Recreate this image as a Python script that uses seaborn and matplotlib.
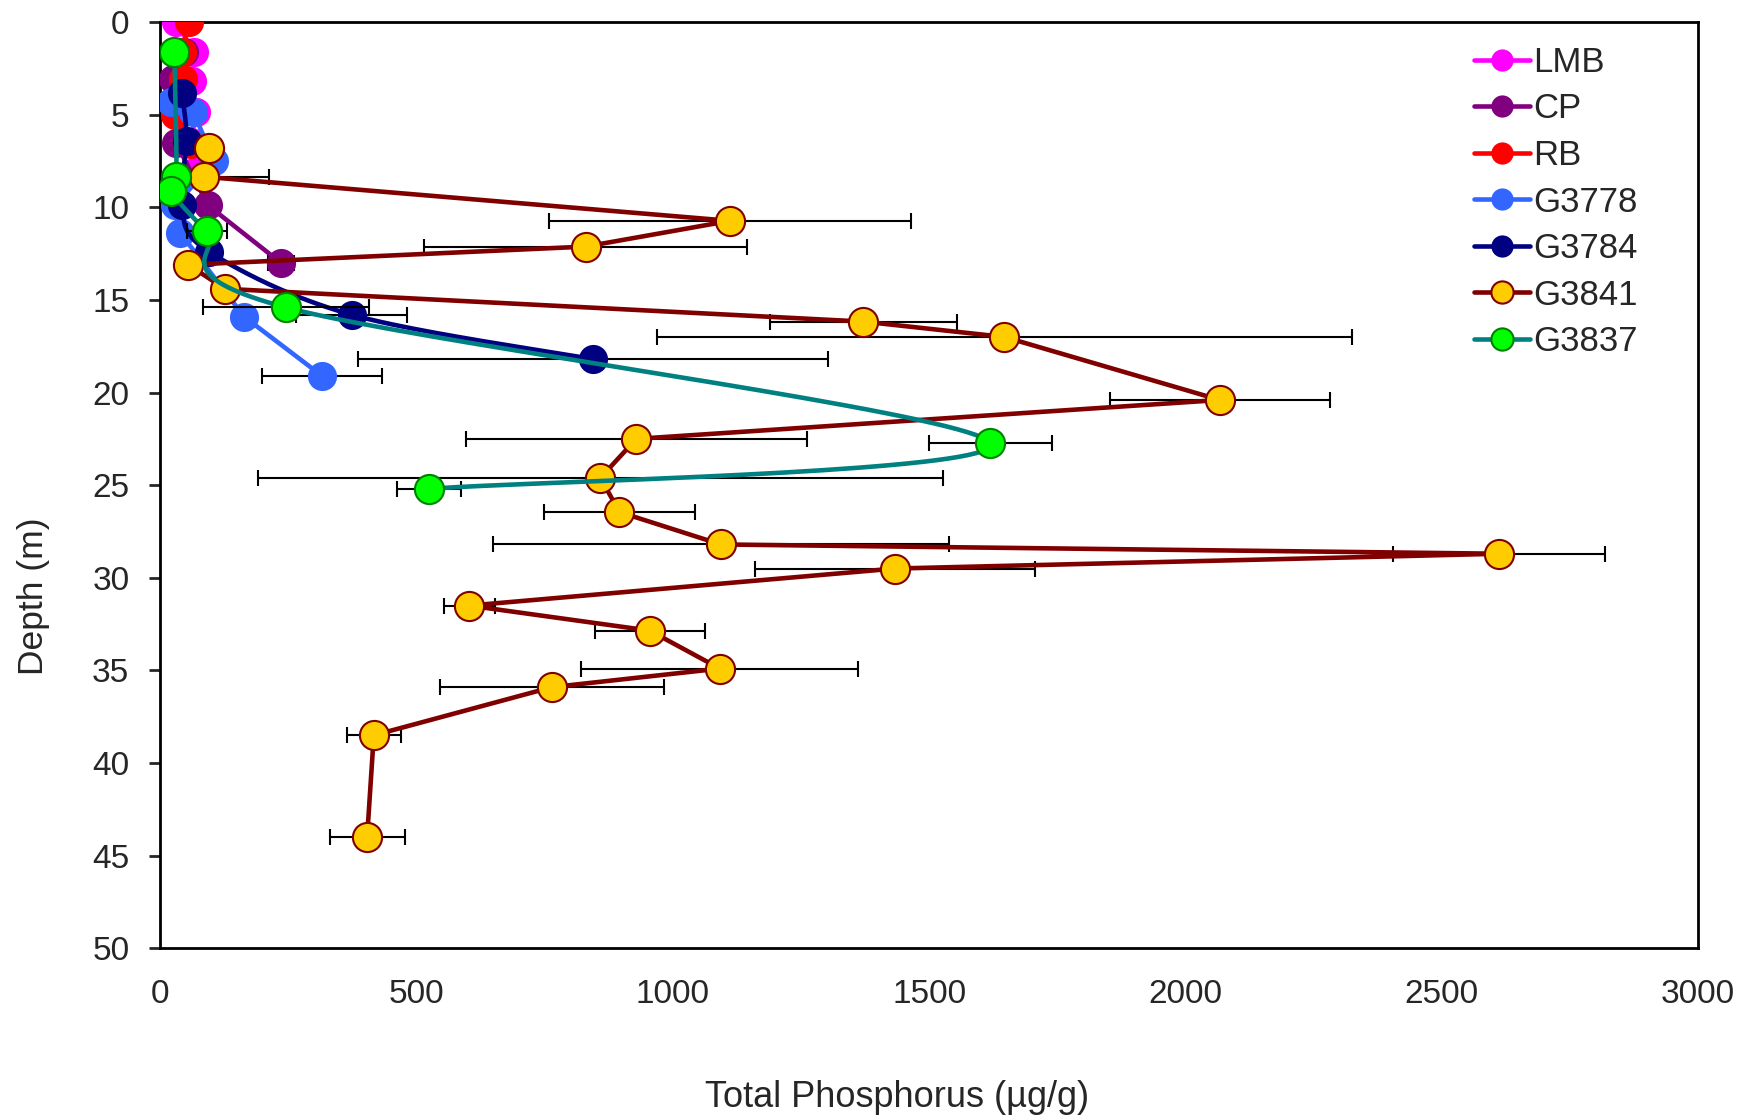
import numpy as np
import matplotlib
matplotlib.use("Agg")
import matplotlib.pyplot as plt
import seaborn as sns
from matplotlib.lines import Line2D

# data (x = total P in ug/g, y = depth in m)
lmb_depth = [0, 1.6, 3.2, 4.85, 6.5, 8.1]
lmb_tp = [31, 66, 62, 71, 60, 66]

cp_depth = [1.6, 3.1, 6.55, 9.9, 13.0]
cp_tp = [47, 26, 32, 94, 236]
cp_err = [0, 0, 0, 0, 25]

rb_depth = [0, 1.6, 3.1, 5.0, 6.6]
rb_tp = [57, 42, 45, 29, 61]

g3778_depth = [4.3, 4.85, 7.5, 9.9, 11.4, 15.9, 19.1]
g3778_tp = [22, 65, 106, 30, 40, 164, 316]
g3778_err = [0, 0, 0, 0, 0, 0, 117]

g3784_depth = [3.85, 6.4, 9.9, 12.4, 15.8, 18.2]
g3784_tp = [43, 52, 42, 96, 374, 845]
g3784_err = [0, 0, 0, 0, 108, 458]

g3841_depth = [6.8, 8.35, 10.73, 12.12, 13.1, 14.4, 16.17, 17.0, 20.4, 22.5,
               24.6, 26.45, 28.2, 28.7, 29.5, 31.5, 32.85, 34.9, 35.9, 38.5, 44.0]
g3841_tp = [96, 86, 1112, 830, 55, 127, 1372, 1647, 2067, 929,
            859, 896, 1094, 2612, 1433, 603, 955, 1092, 765, 417, 404]
g3841_err = [0, 126, 353, 315, 0, 0, 183, 678, 214, 332,
             668, 147, 444, 207, 273, 50, 107, 270, 218, 53, 73]

g3837_depth = [1.6, 8.35, 9.1, 11.3, 15.4, 22.7, 25.2]
g3837_tp = [28, 32, 21, 91, 245, 1619, 525]
g3837_err = [0, 0, 0, 39, 162, 120, 63]

XMAX, YMAX = 3000, 50
W_PX, H_PX = 1538, 926


def smooth(xs, ys, n=40):
    # bezier smoothing like a spreadsheet "smoothed line", done in screen units
    p = np.column_stack([np.asarray(xs, float) / XMAX * W_PX,
                         np.asarray(ys, float) / YMAX * H_PX])
    p = np.vstack([p[0], p, p[-1]])
    out = []
    t = np.linspace(0, 1, n)[:, None]
    for i in range(1, len(p) - 2):
        p0, p1, p2, p3 = p[i - 1], p[i], p[i + 1], p[i + 2]
        c1 = p1 + (p2 - p0) / 6
        c2 = p2 - (p3 - p1) / 6
        seg = ((1 - t) ** 3) * p1 + 3 * ((1 - t) ** 2) * t * c1 + 3 * (1 - t) * t ** 2 * c2 + t ** 3 * p2
        out.append(seg)
    out = np.vstack(out)
    return out[:, 0] / W_PX * XMAX, out[:, 1] / H_PX * YMAX


sns.set_style("white")
plt.rcParams["font.family"] = ["Liberation Sans", "DejaVu Sans"]

fig = plt.figure(figsize=(17.56, 11.2), dpi=100)
ax = fig.add_axes([0.0911, 0.1533, 0.8760, 0.8270])

series = [
    ("LMB", lmb_tp, lmb_depth, None, "#FF00FF", "#FF00FF", "#FF00FF", False),
    ("CP", cp_tp, cp_depth, cp_err, "#800080", "#800080", "#800080", False),
    ("RB", rb_tp, rb_depth, None, "#FF0000", "#FF0000", "#FF0000", False),
    ("G3778", g3778_tp, g3778_depth, g3778_err, "#3366FF", "#3366FF", "#3366FF", False),
    ("G3784", g3784_tp, g3784_depth, g3784_err, "#000080", "#000080", "#000080", True),
    ("G3841", g3841_tp, g3841_depth, g3841_err, "#800000", "#FFCC00", "#800000", False),
    ("G3837", g3837_tp, g3837_depth, g3837_err, "#008080", "#00FF00", "#008000", True),
]

handles = []
z = 3
for name, tp, depth, err, lc, fc, ec, is_smooth in series:
    if err is not None:
        ax.errorbar(tp, depth, xerr=err, fmt="none", ecolor="black",
                    elinewidth=1.5, capsize=6, capthick=1.5, zorder=z)
    if is_smooth:
        sx, sy = smooth(tp, depth)
        ax.plot(sx, sy, color=lc, lw=3.3, zorder=z + 0.1, solid_capstyle="round")
    else:
        sns.lineplot(x=tp, y=depth, sort=False, estimator=None, color=lc,
                     lw=3.3, ax=ax, zorder=z + 0.1)
    edge_w = 1.5 if ec != fc else 0
    sns.scatterplot(x=tp, y=depth, color=fc, edgecolor=ec, linewidth=edge_w,
                    s=440, ax=ax, zorder=z + 0.2)
    handles.append(Line2D([0], [0], color=lc, lw=3.3, marker="o", markersize=16,
                          markerfacecolor=fc, markeredgecolor=ec,
                          markeredgewidth=edge_w))
    z += 1

ax.set_xlim(0, XMAX)
ax.set_ylim(YMAX, 0)
ax.set_xticks(range(0, 3001, 500))
ax.set_yticks(range(0, 51, 5))
ax.tick_params(axis="x", length=0, pad=22, labelsize=24)
ax.tick_params(axis="y", left=True, length=8, width=2, pad=14, labelsize=24)
for s in ax.spines.values():
    s.set_linewidth(2)
    s.set_color("black")

ax.set_xlabel("Total Phosphorus (µg/g)", fontsize=26)
ax.set_ylabel("Depth (m)", fontsize=25.5)
ax.xaxis.set_label_coords(0.479, -0.142)
ax.yaxis.set_label_coords(-0.0715, 0.38)

ax.legend(handles, [s[0] for s in series], loc="upper right",
          bbox_to_anchor=(0.981, 1.008), frameon=False, fontsize=25,
          handlelength=1.6, handletextpad=0.1, labelspacing=0.39)

fig.savefig("out.png", dpi=100)
